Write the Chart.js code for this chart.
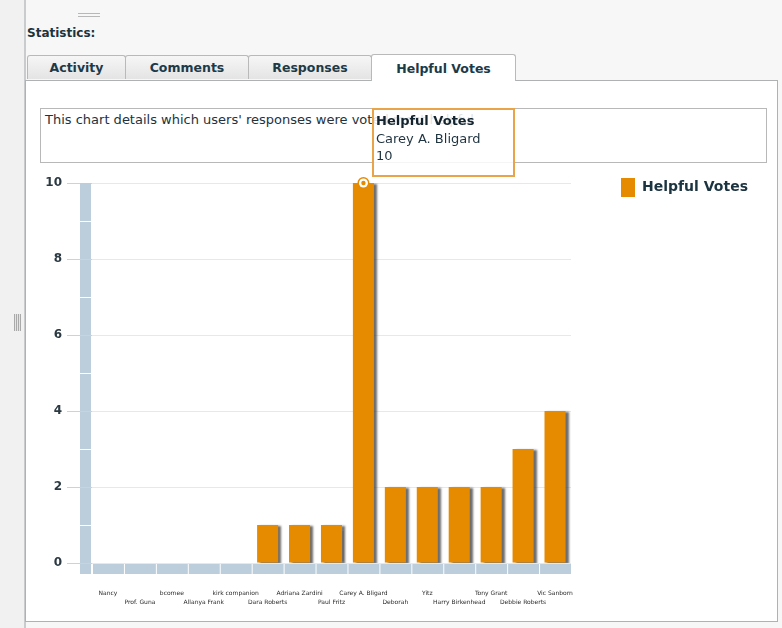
<!DOCTYPE html>
<html>
<head>
<meta charset="utf-8">
<script src="https://cdn.jsdelivr.net/npm/chart.js@4/dist/chart.umd.min.js"></script>
<style>
  body { margin: 0; background: #f7f7f7; font-family: "DejaVu Sans", Verdana, sans-serif; width: 782px; height: 628px; position: relative; overflow: hidden; }
  .grip { position: absolute; left: 78px; top: 13px; width: 22px; height: 2px; border-top: 1px solid #b8b8b8; border-bottom: 1px solid #b8b8b8; }
  .side { position: absolute; left: 0; top: 0; width: 24px; height: 628px; background: #f1f1f1; border-right: 2px solid #c9cccc; }
  .side-grip { position: absolute; left: 14px; top: 314px; width: 7px; height: 17px;
    background: repeating-linear-gradient(90deg, #a9a9a9 0 1px, #e4e4e4 1px 2px); }
  .title { position: absolute; left: 27px; top: 26px; font-size: 12px; font-weight: bold; color: #1c3340; }
  .tab { position: absolute; top: 55px; height: 24px; line-height: 24px; text-align: center; font-size: 12.5px; font-weight: bold; color: #1c3a48;
    background: linear-gradient(#f6f6f6, #e4e4e4); border: 1px solid #b9b9b9; border-bottom: none; border-radius: 3px 3px 0 0; box-sizing: border-box; }
  .tab.active { top: 54px; height: 27px; line-height: 28px; background: #fff; z-index: 2; }
  .panel { position: absolute; left: 25px; top: 80px; width: 753px; height: 542px; background: #fff; border: 1px solid #aeb2b2; box-sizing: border-box; }
  .desc { position: absolute; left: 40px; top: 108px; width: 727px; height: 55px; border: 1px solid #b8b8b8; box-sizing: border-box; background: #fff;
    font-size: 13px; color: #24323b; padding: 3px 0 0 4px; }
  .tip { position: absolute; left: 372px; top: 108px; width: 143px; height: 69px; border: 2px solid #e9a44a; box-sizing: border-box;
    background: rgba(255,255,255,0.86); font-size: 13px; color: #1f3340; padding: 2px 0 0 2px; line-height: 17.5px; z-index: 3; }
  .tip b { color: #13242e; }
  .chart-box { position: absolute; left: 0; top: 128px; width: 782px; height: 487px; }
</style>
</head>
<body>
<div class="side"><div class="side-grip"></div></div>
<div class="grip"></div>
<div class="title">Statistics:</div>
<div class="panel"></div>
<div class="tab" style="left:27px;width:99px;">Activity</div>
<div class="tab" style="left:125px;width:124px;">Comments</div>
<div class="tab" style="left:248px;width:124px;">Responses</div>
<div class="tab active" style="left:371px;width:145px;">Helpful Votes</div>
<div class="desc">This chart details which users' responses were voted most helpful</div>
<div class="tip" id="tip"></div>
<div class="chart-box"><canvas id="votesChart" width="782" height="487"></canvas></div>
<script>
const users = ['Nancy', 'Prof. Guna', 'bcomee', 'Allanya Frank', 'kirk companion', 'Dara Roberts',
  'Adriana Zardini', 'Paul Fritz', 'Carey A. Bligard', 'Deborah', 'Yitz', 'Harry Birkenhead',
  'Tony Grant', 'Debbie Roberts', 'Vic Sanborn'];
const helpfulVotes = [0, 0, 0, 0, 0, 1, 1, 1, 10, 2, 2, 2, 2, 3, 4];
const yTicks = [0, 2, 4, 6, 8, 10];
const seriesName = 'Helpful Votes';
const highlighted = 'Carey A. Bligard';

const AXIS_BLUE = '#bccddc';
const ORANGE = '#e68a00';
const LEGEND_FONT = { family: 'DejaVu Sans', size: 14, weight: 'bold' };
const LEGEND_PAD = 50;
const PLOT_RIGHT = 571;

// staggered labels: even on first line, odd on second
const labels = users.map((u, i) => i % 2 === 0 ? [u, ''] : ['', u]);

const hi = users.indexOf(highlighted);
document.getElementById('tip').innerHTML =
  '<b>' + seriesName + '</b><br>' + users[hi] + '<br>' + helpfulVotes[hi];

// room left after the legend so the plot ends where the reference's does
const canvas = document.getElementById('votesChart');
const mctx = canvas.getContext('2d');
mctx.font = 'bold ' + LEGEND_FONT.size + 'px "DejaVu Sans"';
const legendW = LEGEND_PAD + 14 + LEGEND_FONT.size / 2 + mctx.measureText(seriesName).width + 10;
const padRight = Math.max(0, canvas.width - PLOT_RIGHT - legendW);

const axisBars = {
  id: 'axisBars',
  beforeDatasetsDraw(chart) {
    const {ctx, chartArea, scales} = chart;
    const x = scales.x, y = scales.y;
    ctx.save();
    ctx.fillStyle = AXIS_BLUE;
    // vertical bar, one segment per unit
    const ymax = yTicks[yTicks.length - 1];
    for (let v = 0; v < ymax; v++) {
      const top = y.getPixelForValue(v + 1);
      const bot = y.getPixelForValue(v);
      const gap = v + 1 === ymax ? 0 : 1;
      ctx.fillRect(chartArea.left - 12, top + gap, 11, bot - top - gap);
    }
    // corner piece
    ctx.fillRect(chartArea.left - 12, chartArea.bottom + 1, 11, 10);
    // horizontal bar, one segment per category
    const step = x.width / users.length;
    for (let i = 0; i < users.length; i++) {
      const l = x.getPixelForValue(i) - step / 2;
      ctx.fillRect(l + 1, chartArea.bottom + 1, step - 1, 10);
    }
    ctx.restore();
  },
  beforeDatasetDraw(chart) {
    const ctx = chart.ctx;
    ctx.save();
    ctx.shadowColor = 'rgba(60,60,60,0.75)';
    ctx.shadowOffsetX = 3;
    ctx.shadowOffsetY = 1;
    ctx.shadowBlur = 2;
  },
  afterDatasetDraw(chart) {
    chart.ctx.restore();
  },
  afterDatasetsDraw(chart) {
    const bar = chart.getDatasetMeta(0).data[hi];
    const ctx = chart.ctx;
    ctx.save();
    ctx.beginPath();
    ctx.arc(bar.x, bar.y, 6, 0, Math.PI * 2);
    ctx.fillStyle = ORANGE;
    ctx.fill();
    ctx.beginPath();
    ctx.arc(bar.x, bar.y, 4.5, 0, Math.PI * 2);
    ctx.fillStyle = '#fff';
    ctx.fill();
    ctx.beginPath();
    ctx.arc(bar.x, bar.y, 2.2, 0, Math.PI * 2);
    ctx.fillStyle = ORANGE;
    ctx.fill();
    ctx.restore();
  }
};

new Chart(canvas, {
  type: 'bar',
  data: {
    labels: labels,
    datasets: [{
      label: seriesName,
      data: helpfulVotes,
      backgroundColor: ORANGE,
      borderWidth: 0,
      barPercentage: 0.66,
      categoryPercentage: 1
    }]
  },
  options: {
    responsive: false,
    animation: false,
    events: [],
    layout: { padding: { top: 0, left: 0, bottom: 0, right: padRight } },
    plugins: {
      tooltip: { enabled: false },
      legend: {
        position: 'right',
        align: 'start',
        labels: {
          boxWidth: 14,
          boxHeight: 19,
          padding: LEGEND_PAD,
          color: '#1c3340',
          font: LEGEND_FONT
        }
      }
    },
    scales: {
      x: {
        grid: { display: false, drawTicks: false },
        border: { display: false },
        ticks: {
          autoSkip: false,
          maxRotation: 0,
          padding: 25,
          color: '#2a2a2a',
          font: { family: 'DejaVu Sans', size: 6, lineHeight: 1.65 }
        },
        afterFit(s) { s.height = 52; }
      },
      y: {
        min: 0,
        max: 10,
        grid: { color: '#e8e8e8', tickColor: '#c6d4e0', tickLength: 25 },
        border: { display: false },
        ticks: {
          stepSize: 2,
          padding: 5,
          color: '#2b3942',
          font: { family: 'DejaVu Sans', size: 12, weight: 'bold' }
        },
        afterFit(s) { s.width = 92; s.paddingTop = 55; }
      }
    }
  },
  plugins: [axisBars]
});
</script>
</body>
</html>
